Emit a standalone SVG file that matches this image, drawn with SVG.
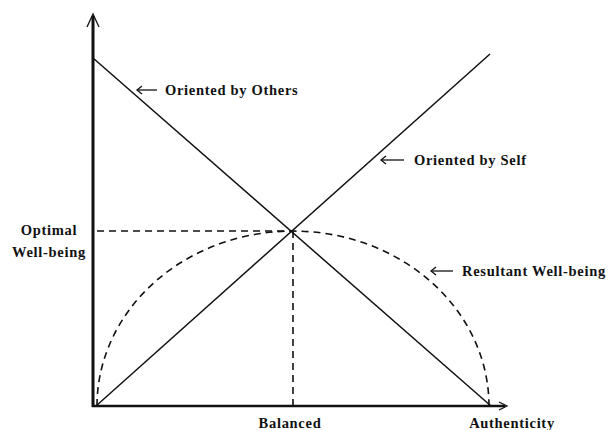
<svg xmlns="http://www.w3.org/2000/svg" width="609" height="430" viewBox="0 0 609 430">
<style>
.t{font-family:"Liberation Serif",serif;font-weight:bold;font-size:14.5px;letter-spacing:0.7px;fill:#111}
.ln{stroke:#111;stroke-width:1.5;fill:none}
.ds{stroke:#111;stroke-width:1.6;fill:none;stroke-dasharray:7,5}
.ar{stroke:#111;stroke-width:1.3;fill:none}
</style>
<rect width="609" height="430" fill="#fff"/>
<g id="axes">
<line x1="93" y1="16" x2="93" y2="407" stroke="#111" stroke-width="3"/>
<polyline points="87,27 93,14 99,27" class="ar"/>
<line x1="92" y1="406" x2="505" y2="406" stroke="#111" stroke-width="2.5"/>
<polyline points="499,402 507,406 499,410" class="ar"/>
</g>
<g id="connectors">
<line x1="93" y1="58" x2="491" y2="406" class="ln"/>
<line x1="96" y1="406" x2="490" y2="54" class="ln"/>
<line x1="97" y1="231" x2="293" y2="231" class="ds"/>
<line x1="293" y1="231" x2="293" y2="406" class="ds"/>
<path d="M97,406 A196,175 0 0 1 489,406" class="ds"/>
</g>
<g id="others">
<line x1="138" y1="90" x2="157" y2="90" class="ar"/>
<polyline points="142,86 137,90 142,94" class="ar"/>
<text x="165" y="95" class="t">Oriented by Others</text>
</g>
<g id="self">
<line x1="381" y1="160" x2="404" y2="160" class="ar"/>
<polyline points="386,156 381,160 386,164" class="ar"/>
<text x="414" y="165" class="t">Oriented by Self</text>
</g>
<g id="resultant">
<line x1="431" y1="271" x2="453" y2="271" class="ar"/>
<polyline points="436,267 431,271 436,275" class="ar"/>
<text x="462" y="276" class="t">Resultant Well-being</text>
</g>
<g id="optimal">
<text x="49" y="235" class="t" text-anchor="middle">Optimal</text>
<text x="49" y="257" class="t" text-anchor="middle">Well-being</text>
</g>
<g id="balanced"><text x="290" y="428" class="t" text-anchor="middle">Balanced</text></g>
<g id="authenticity"><text x="512" y="428" class="t" text-anchor="middle">Authenticity</text></g>
</svg>
